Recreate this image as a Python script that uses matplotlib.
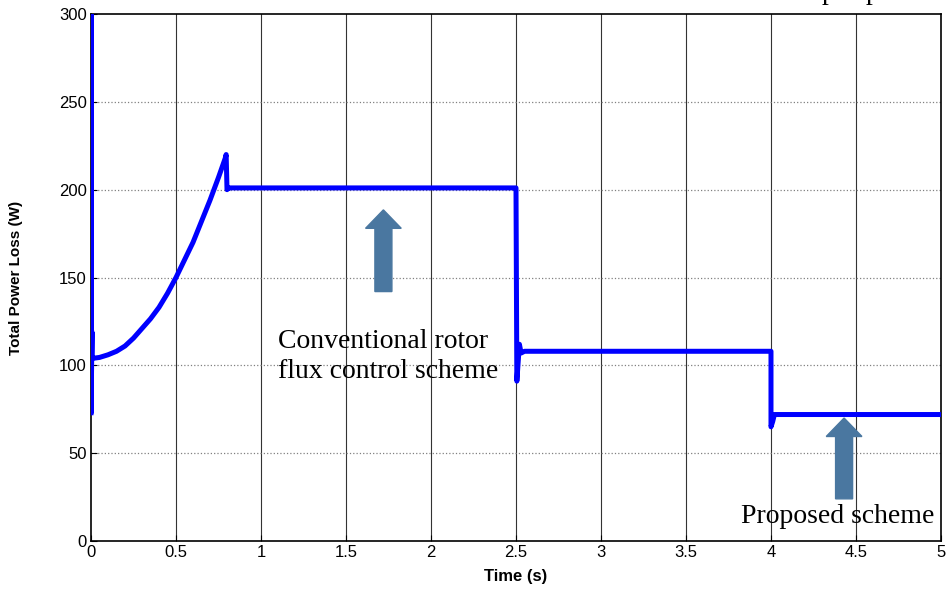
import numpy as np
import matplotlib.pyplot as plt
from matplotlib.patches import FancyArrow

# power loss trace
t = [0.0, 0.0, 0.0, 0.006, 0.006, 0.012, 0.05, 0.1, 0.15, 0.2, 0.25, 0.3, 0.35,
     0.4, 0.45, 0.5, 0.55, 0.6, 0.65, 0.7, 0.75, 0.79, 0.795, 0.8, 0.81, 0.82,
     2.49, 2.5, 2.505, 2.52, 2.53, 2.55, 4.0, 4.0, 4.01, 4.02, 5.0]
p = [73, 310, 73, 119, 104, 104, 104.5, 106, 108, 111, 115.5, 121, 126.5,
     133, 141, 150, 160, 170, 182, 194, 207, 218, 220, 200, 201, 201,
     201, 201, 91, 112, 107, 108, 108, 65, 68, 72, 72]

arrow_x = [1.72, 4.43]
arrow_y0 = [142, 24]
arrow_y1 = [188.5, 70]

fig = plt.figure(figsize=(9.48, 5.91), dpi=100)
ax = fig.add_axes([0.096, 0.0846, 0.8966, 0.8917])

ax.plot(t, p, color='blue', lw=3.6, solid_joinstyle='round', zorder=3)

ax.set_xlim(0, 5)
ax.set_ylim(0, 300)
ax.set_xticks(np.arange(0, 5.01, 0.5))
ax.set_xticklabels(['0', '0.5', '1', '1.5', '2', '2.5', '3', '3.5', '4', '4.5', '5'])
ax.set_yticks(range(0, 301, 50))
ax.tick_params(direction='in', labelsize=12, length=4, pad=3)
for lab in ax.get_xticklabels() + ax.get_yticklabels():
    lab.set_family('Liberation Sans')
for s in ax.spines.values():
    s.set_linewidth(1.2)

for xv in np.arange(0.5, 5, 0.5):
    ax.axvline(xv, color='#333333', lw=0.8, zorder=1)
for yv in range(50, 300, 50):
    ax.axhline(yv, color='gray', lw=0.9, ls=':', zorder=1)

ax.set_xlabel('Time (s)', fontsize=12, fontweight='bold', family='Liberation Sans', labelpad=6)
ax.set_ylabel('Total Power Loss (W)', fontsize=11, fontweight='bold',
              family='Liberation Sans', labelpad=26)

for xa, y0, y1 in zip(arrow_x, arrow_y0, arrow_y1):
    ax.add_patch(FancyArrow(xa, y0, 0, y1 - y0, width=0.1, head_width=0.21,
                            head_length=10.5, length_includes_head=True,
                            color='#4a77a0', zorder=4))

ax.text(1.1, 105, 'Conventional rotor\nflux control scheme', family='Liberation Serif',
        fontsize=20, ha='left', va='center', linespacing=1.3, zorder=5)
ax.text(4.39, 14, 'Proposed scheme', family='Liberation Serif', fontsize=20,
        ha='center', va='center', zorder=5)

# clipped fragments of a text line above the figure (only descenders visible)
fig.text(822 / 948, 1 + 1.0 / 591, 'p', family='Liberation Serif', fontsize=20, va='baseline')
fig.text(866 / 948, 1 + 1.0 / 591, 'p', family='Liberation Serif', fontsize=20, va='baseline')

plt.savefig('out.png', dpi=100)
